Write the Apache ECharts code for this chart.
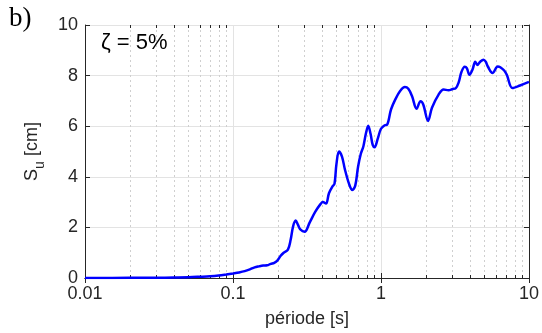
<!DOCTYPE html>
<html>
<head>
<meta charset="utf-8">
<script src="https://cdn.jsdelivr.net/npm/echarts@6/dist/echarts.min.js"></script>
<style>html,body{margin:0;padding:0;background:#fff;}#c{width:542px;height:333px;}</style>
</head>
<body>
<div id="c"></div>
<script>
// Period (s) and spectral displacement Su (cm), zeta = 5%
const periods = [0.01, 0.02, 0.03, 0.04, 0.05, 0.06, 0.07, 0.08, 0.09, 0.1,
  0.11, 0.12, 0.13, 0.14, 0.15, 0.16, 0.17, 0.18, 0.19, 0.2,
  0.21, 0.22, 0.235, 0.245, 0.255, 0.265, 0.275, 0.285, 0.305, 0.33,
  0.36, 0.39, 0.405, 0.425, 0.445, 0.47, 0.485, 0.5, 0.52, 0.545,
  0.57, 0.61, 0.64, 0.67, 0.70, 0.73, 0.76, 0.79, 0.82, 0.85,
  0.88, 0.905, 0.95, 1.0, 1.06, 1.10, 1.17, 1.25, 1.35, 1.45,
  1.53, 1.62, 1.74, 1.85, 1.93, 2.08, 2.21, 2.45, 2.65, 2.86,
  3.05, 3.2, 3.34, 3.5, 3.68, 3.8, 3.96, 4.16, 4.33, 4.48,
  4.68, 4.93, 5.1, 5.27, 5.67, 6.15, 6.4, 6.8, 7.08, 7.73,
  8.7, 10];
const su = [0.0, 0.005, 0.01, 0.02, 0.03, 0.05, 0.07, 0.10, 0.14, 0.18,
  0.22, 0.27, 0.34, 0.42, 0.46, 0.49, 0.50, 0.56, 0.60, 0.70,
  0.88, 1.0, 1.12, 1.5, 2.05, 2.27, 2.1, 1.92, 1.83, 2.2,
  2.62, 2.92, 3.0, 2.94, 3.35, 3.62, 3.72, 4.5, 5.0, 4.8,
  4.3, 3.7, 3.48, 3.65, 4.4, 4.9, 5.2, 5.7, 6.02, 5.7,
  5.25, 5.17, 5.5, 5.9, 6.04, 6.06, 6.67, 7.06, 7.4, 7.55,
  7.48, 7.19, 6.69, 6.99, 6.86, 6.21, 6.73, 7.25, 7.45, 7.42,
  7.47, 7.5, 7.71, 8.15, 8.35, 8.3, 8.03, 8.25, 8.55, 8.42,
  8.55, 8.63, 8.55, 8.36, 8.10, 8.36, 8.33, 8.2, 8.03, 7.51,
  7.61, 7.75];
const minorPeriods = [0.02, 0.03, 0.04, 0.05, 0.06, 0.07, 0.08, 0.09,
  0.2, 0.3, 0.4, 0.5, 0.6, 0.7, 0.8, 0.9,
  2, 3, 4, 5, 6, 7, 8, 9];
const yTicks = [0, 2, 4, 6, 8, 10];
const xLabel = 'période [s]';
const panelLabel = 'b)';
const dampingLabel = 'ζ = 5%';

const axisColor = '#262626';
const font = 'Liberation Sans, Arial, sans-serif';

const chart = echarts.init(document.getElementById('c'), null, {renderer: 'canvas'});
const xCommon = {
  type: 'log', logBase: 10, min: 0.01, max: 10,
  axisLine: {show: true, lineStyle: {color: axisColor, width: 1}},
  axisTick: {show: true, inside: true, length: 5, lineStyle: {color: axisColor}},
  splitLine: {show: false}
};
const yCommon = {
  type: 'value', min: yTicks[0], max: yTicks[yTicks.length - 1], interval: 2,
  axisLine: {show: true, lineStyle: {color: axisColor, width: 1}},
  axisTick: {show: true, inside: true, length: 5, lineStyle: {color: axisColor}},
  splitLine: {show: false}
};
chart.setOption({
  animation: false,
  backgroundColor: '#fff',
  grid: {left: 85, right: 11, top: 25, bottom: 52, containLabel: false},
  xAxis: [
    Object.assign({}, xCommon, {
      position: 'bottom',
      splitLine: {show: true, lineStyle: {color: '#e3e3e3', width: 1}},
      axisLabel: {color: axisColor, fontSize: 18, fontFamily: font, margin: 7,
        formatter: v => String(v)},
      name: xLabel, nameLocation: 'middle', nameGap: 32,
      nameTextStyle: {color: axisColor, fontSize: 18, fontFamily: font}
    }),
    Object.assign({}, xCommon, {position: 'top', axisLabel: {show: false}})
  ],
  yAxis: [
    Object.assign({}, yCommon, {
      position: 'left',
      splitLine: {show: true, lineStyle: {color: '#e3e3e3', width: 1}},
      axisLabel: {color: axisColor, fontSize: 18, fontFamily: font, margin: 7},
      name: '{s|S}{u|u}{s| [cm]}', nameLocation: 'middle', nameGap: 36,
      nameTextStyle: {
        color: axisColor, fontFamily: font,
        rich: {
          s: {fontSize: 18, lineHeight: 30, color: axisColor, fontFamily: font},
          u: {fontSize: 14, lineHeight: 14, verticalAlign: 'bottom', color: axisColor, fontFamily: font}
        }
      }
    }),
    Object.assign({}, yCommon, {position: 'right', axisLabel: {show: false}})
  ],
  graphic: [
    {type: 'text', left: 9, top: 5, style: {text: panelLabel, fontSize: 27,
      fontFamily: 'Liberation Serif, Times New Roman, serif', fill: '#000'}},
    {type: 'text', left: 101, top: 32, style: {text: dampingLabel, fontSize: 22,
      fontFamily: font, fill: '#000'}}
  ],
  series: [
    {
      type: 'custom', xAxisIndex: 0, yAxisIndex: 0, z: 1, silent: true,
      data: minorPeriods.map(p => [p, 0]),
      encode: {x: 0, y: 1},
      renderItem: function (params, api) {
        const x = Math.round(api.coord([api.value(0), 0])[0]) + 0.5;
        const cs = params.coordSys;
        return {type: 'group', children: [
          {type: 'line', shape: {x1: x, y1: cs.y, x2: x, y2: cs.y + cs.height},
            style: {stroke: '#cfcfcf', lineWidth: 1, lineDash: [2, 3]}},
          {type: 'line', shape: {x1: x, y1: cs.y + cs.height, x2: x, y2: cs.y + cs.height - 3},
            style: {stroke: axisColor, lineWidth: 1}},
          {type: 'line', shape: {x1: x, y1: cs.y, x2: x, y2: cs.y + 3},
            style: {stroke: axisColor, lineWidth: 1}}
        ]};
      }
    },
    {
      type: 'line', xAxisIndex: 0, yAxisIndex: 0, z: 5,
      data: periods.map((p, i) => [p, su[i]]),
      showSymbol: false, symbol: 'none', smooth: 0.35,
      lineStyle: {color: '#0000ff', width: 2.5},
      clip: true
    }
  ]
});
</script>
</body>
</html>
